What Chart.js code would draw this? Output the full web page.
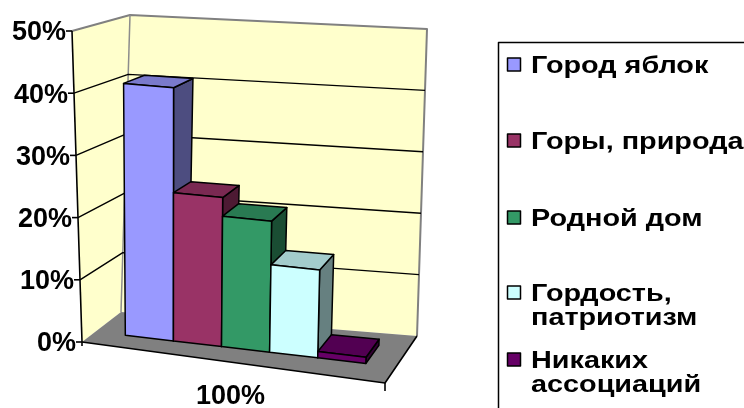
<!DOCTYPE html>
<html>
<head>
<meta charset="utf-8">
<script src="https://cdn.jsdelivr.net/npm/chart.js@4.4.1/dist/chart.umd.min.js"></script>
<style>
  html, body { margin: 0; padding: 0; background: #fff; }
  #wrap { width: 744px; height: 408px; }
</style>
</head>
<body>
<div id="wrap"><canvas id="chart" width="744" height="408"></canvas></div>
<script>
// Data
const categories = ['100%'];
const seriesNames = ['Город яблок', 'Горы, природа', 'Родной дом', 'Гордость, патриотизм', 'Никаких ассоциаций'];
const seriesValues = [0.41, 0.24, 0.21, 0.14, 0.01];
const seriesColors = ['#9999FF', '#993366', '#339966', '#CCFFFF', '#660066'];
const yMax = 0.5;
const yStep = 0.1;

// 3D frame corners in pixels (f/b = front/back, b/t = bottom/top, l/r = left/right)
const box = {
  fbl: [82, 342], fbr: [385, 383], ftl: [72, 31], ftr: [396, 62],
  bbl: [121, 312], bbr: [417, 336], btl: [130, 15], btr: [427, 29]
};
const barZ = [0.34, 0.74];
const FONT = '"Liberation Sans", Arial, sans-serif';

function lerp(a, b, t) { return [a[0] + (b[0] - a[0]) * t, a[1] + (b[1] - a[1]) * t]; }
function proj(X, Y, Z) {
  const f = lerp(lerp(box.fbl, box.fbr, X), lerp(box.ftl, box.ftr, X), Y);
  const b = lerp(lerp(box.bbl, box.bbr, X), lerp(box.btl, box.btr, X), Y);
  return lerp(f, b, Z);
}
function shade(hex, k) {
  const n = parseInt(hex.slice(1), 16);
  const r = Math.round(((n >> 16) & 255) * k), g = Math.round(((n >> 8) & 255) * k), b = Math.round((n & 255) * k);
  return `rgb(${r},${g},${b})`;
}
function poly(ctx, pts, fill, stroke, lw) {
  ctx.beginPath();
  pts.forEach((p, i) => { const q = proj(...p); i ? ctx.lineTo(q[0], q[1]) : ctx.moveTo(q[0], q[1]); });
  ctx.closePath();
  if (fill) { ctx.fillStyle = fill; ctx.fill(); }
  if (stroke) { ctx.strokeStyle = stroke; ctx.lineWidth = lw; ctx.stroke(); }
}
function line(ctx, pts, color, lw) {
  ctx.beginPath();
  pts.forEach((p, i) => { const q = proj(...p); i ? ctx.lineTo(q[0], q[1]) : ctx.moveTo(q[0], q[1]); });
  ctx.strokeStyle = color; ctx.lineWidth = lw; ctx.stroke();
}

const threeD = {
  id: 'threeD',
  beforeDatasetsDraw(chart) {
    const ctx = chart.ctx;
    const ca = chart.chartArea;
    const yScale = chart.scales.y;
    const nx = px => (px - ca.left) / (ca.right - ca.left);
    const ny = py => (ca.bottom - py) / (ca.bottom - ca.top);
    let ticks = yScale.ticks.map(t => t.value);
    if (!ticks.length) for (let v = 0; v <= yMax + 1e-9; v += yStep) ticks.push(v);

    ctx.save();
    ctx.lineJoin = 'round';

    // walls and floor
    poly(ctx, [[0,0,1],[1,0,1],[1,1,1],[0,1,1]], '#FFFFCC');
    poly(ctx, [[0,0,0],[0,0,1],[0,1,1],[0,1,0]], '#FFFFCC');
    poly(ctx, [[0,0,0],[1,0,0],[1,0,1],[0,0,1]], '#808080');
    line(ctx, [[0,1,0],[0,1,1],[1,1,1],[1,0,1]], '#808080', 2);
    line(ctx, [[0,0,1],[0,1,1]], '#8c8c8c', 1.5);

    // gridlines
    ticks.forEach(v => {
      const Y = ny(yScale.getPixelForValue(v));
      if (v <= 0 || v >= yMax - 1e-9) return;
      line(ctx, [[0,Y,0],[0,Y,1],[1,Y,1]], '#000', 1.4);
    });

    // axes
    line(ctx, [[0,0,0],[0,1,0]], '#000', 1.6);
    line(ctx, [[0,0,0],[1,0,0],[1,0,1]], '#000', 1.6);
    ctx.strokeStyle = '#000'; ctx.lineWidth = 1.6;
    const fr = proj(1, 0, 0);
    ctx.beginPath(); ctx.moveTo(fr[0], fr[1]); ctx.lineTo(fr[0], fr[1] + 8); ctx.stroke();
    const fl = proj(0, 0, 0);
    ctx.beginPath(); ctx.moveTo(fl[0], fl[1]); ctx.lineTo(fl[0], fl[1] + 4); ctx.stroke();

    ctx.font = `bold 27px ${FONT}`;
    ctx.fillStyle = '#000';
    ctx.textAlign = 'right';
    ctx.textBaseline = 'middle';
    ticks.forEach(v => {
      const p = proj(0, ny(yScale.getPixelForValue(v)), 0);
      ctx.beginPath(); ctx.moveTo(p[0] - 6, p[1]); ctx.lineTo(p[0], p[1]); ctx.stroke();
      ctx.fillText(Math.round(v * 100) + '%', p[0] - 6, p[1] + 2);
    });
    ctx.textAlign = 'center';
    categories.forEach((c, i) => {
      const p = proj(0.5, 0, 0);
      ctx.fillText(c, p[0] - 3, p[1] + 34);
    });

    // bars, left to right
    chart.data.datasets.forEach((ds, i) => {
      const el = chart.getDatasetMeta(i).data[0];
      const X0 = nx(el.x - el.width / 2), X1 = nx(el.x + el.width / 2);
      const Y0 = ny(el.base), Y1 = ny(el.y);
      const [Z0, Z1] = barZ;
      const col = seriesColors[i];
      poly(ctx, [[X1,Y0,Z0],[X1,Y0,Z1],[X1,Y1,Z1],[X1,Y1,Z0]], shade(col, 0.5), '#000', 1.5);
      poly(ctx, [[X0,Y1,Z0],[X1,Y1,Z0],[X1,Y1,Z1],[X0,Y1,Z1]], shade(col, 0.8), '#000', 1.5);
      poly(ctx, [[X0,Y0,Z0],[X1,Y0,Z0],[X1,Y1,Z0],[X0,Y1,Z0]], col, '#000', 1.5);
    });

    // legend
    ctx.strokeStyle = '#000'; ctx.lineWidth = 1.5;
    ctx.strokeRect(498.5, 42.5, 300, 400);
    const rowY = [65, 141, 218, 293, 360];
    const sx = 1.2;
    ctx.font = `bold 24px ${FONT}`;
    ctx.textAlign = 'left';
    seriesNames.forEach((name, i) => {
      const words = name.split(' ');
      const lines = [];
      let cur = '';
      words.forEach(w => {
        const t = cur ? cur + ' ' + w : w;
        if (cur && ctx.measureText(t).width * sx > 222) { lines.push(cur); cur = w; } else cur = t;
      });
      lines.push(cur);
      ctx.fillStyle = seriesColors[i];
      ctx.fillRect(507.5, rowY[i] - 7, 13, 13);
      ctx.lineWidth = 1.5; ctx.strokeStyle = '#000';
      ctx.strokeRect(507.5, rowY[i] - 7, 13, 13);
      ctx.fillStyle = '#000';
      lines.forEach((l, k) => {
        ctx.save();
        ctx.translate(531, rowY[i] + k * 24.5 + 1);
        ctx.scale(sx, 1);
        ctx.fillText(l, 0, 0);
        ctx.restore();
      });
    });

    ctx.restore();
    return false;
  }
};

new Chart(document.getElementById('chart'), {
  type: 'bar',
  data: {
    labels: categories,
    datasets: seriesNames.map((name, i) => ({
      label: name,
      data: [seriesValues[i]],
      backgroundColor: seriesColors[i],
      categoryPercentage: 0.8,
      barPercentage: 1
    }))
  },
  options: {
    responsive: false,
    animation: false,
    devicePixelRatio: 1,
    layout: { padding: { left: 82, right: 744 - 385, top: 31, bottom: 408 - 342 } },
    plugins: { legend: { display: false }, tooltip: { enabled: false } },
    scales: {
      x: { display: false },
      y: { display: false, min: 0, max: yMax, ticks: { stepSize: yStep } }
    }
  },
  plugins: [threeD]
});
</script>
</body>
</html>
